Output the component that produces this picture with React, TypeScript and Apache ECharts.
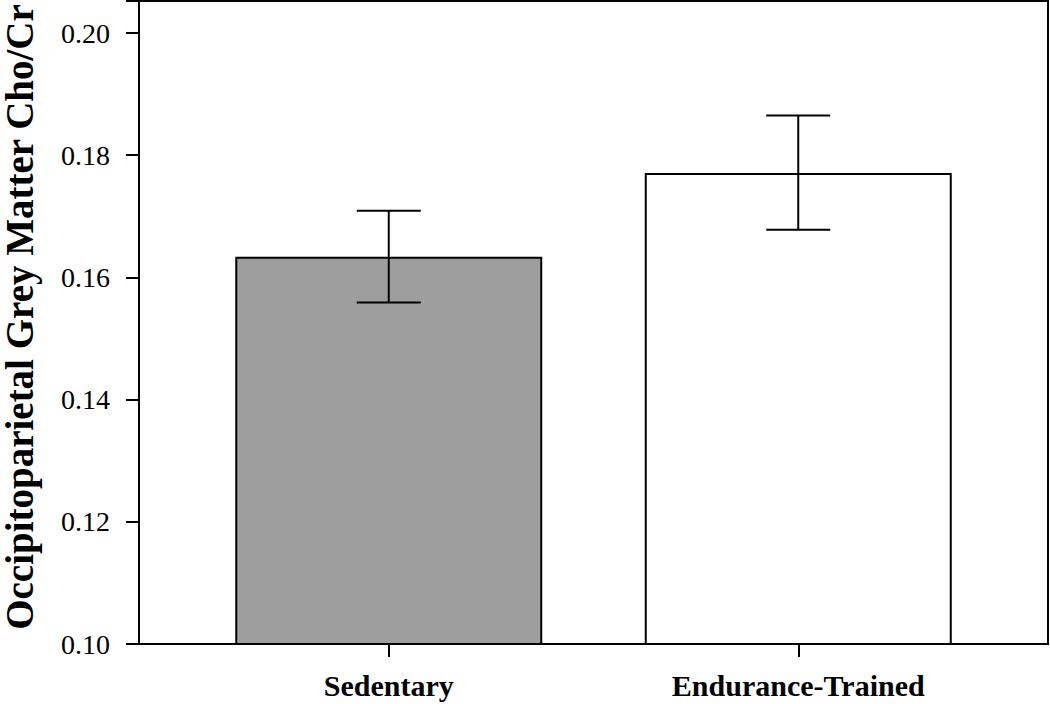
import React, { useEffect, useRef } from "react";
import * as echarts from "echarts";

const categories = ["Sedentary", "Endurance-Trained"];
const means = [0.1634, 0.1771];
const errLow = [0.1559, 0.1678];
const errHigh = [0.1709, 0.1865];
const barColors = ["#9e9e9e", "#ffffff"];
const yTitle = "Occipitoparietal Grey Matter Cho/Cr";

export default function App() {
  const ref = useRef<HTMLDivElement>(null);
  useEffect(() => {
    if (!ref.current) return;
    const chart = echarts.init(ref.current, null, { renderer: "svg" });
    const serif = "'Liberation Serif', 'Times New Roman', serif";
    chart.setOption({
      animation: false,
      backgroundColor: "#ffffff",
      grid: { left: 184, top: 1, width: 819, height: 643 },
      xAxis: {
        type: "category",
        data: categories,
        axisLine: { show: false },
        axisTick: { show: true, alignWithLabel: true, length: 13, lineStyle: { color: "#000", width: 2 } },
        axisLabel: { fontFamily: serif, fontWeight: "bold", fontSize: 30, color: "#000", margin: 26 },
      },
      yAxis: {
        type: "value",
        min: 0.1,
        max: 0.20524,
        interval: 0.02,
        offset: 45,
        splitLine: { show: false },
        axisLine: { show: false },
        axisTick: { show: true, length: 13, lineStyle: { color: "#000", width: 2 } },
        axisLabel: {
          fontFamily: serif,
          fontSize: 28,
          color: "#000",
          margin: 29,
          formatter: (v: number) => (v > 0.2025 ? "" : v.toFixed(2)),
        },
      },
      graphic: [
        {
          type: "rect",
          shape: { x: 139, y: 1, width: 909, height: 643 },
          style: { fill: "none", stroke: "#000", lineWidth: 2 },
          z: 10,
        },
        {
          type: "text",
          x: 19,
          y: 317,
          rotation: Math.PI / 2,
          style: {
            text: yTitle,
            fontFamily: serif,
            fontWeight: "bold",
            fontSize: 39,
            fill: "#000",
            align: "center",
            verticalAlign: "middle",
          },
        },
      ],
      series: [
        {
          type: "bar",
          barWidth: 307,
          data: means.map((v, i) => ({
            value: v,
            itemStyle: { color: barColors[i], borderColor: "#000", borderWidth: 2 },
          })),
          z: 2,
        },
        {
          type: "custom",
          z: 5,
          data: categories.map((_, i) => [i, errLow[i], errHigh[i]]),
          renderItem: (params: any, api: any) => {
            const x = api.value(0);
            const lo = api.coord([x, api.value(1)]);
            const hi = api.coord([x, api.value(2)]);
            const half = 32;
            const style = { stroke: "#000", lineWidth: 2 };
            return {
              type: "group",
              children: [
                { type: "line", shape: { x1: lo[0], y1: lo[1], x2: hi[0], y2: hi[1] }, style },
                { type: "line", shape: { x1: lo[0] - half, y1: lo[1], x2: lo[0] + half, y2: lo[1] }, style },
                { type: "line", shape: { x1: hi[0] - half, y1: hi[1], x2: hi[0] + half, y2: hi[1] }, style },
              ],
            };
          },
        },
      ],
    });
    return () => chart.dispose();
  }, []);
  return <div ref={ref} style={{ position: "fixed", left: 0, top: 0, width: 1050, height: 704 }} />;
}
